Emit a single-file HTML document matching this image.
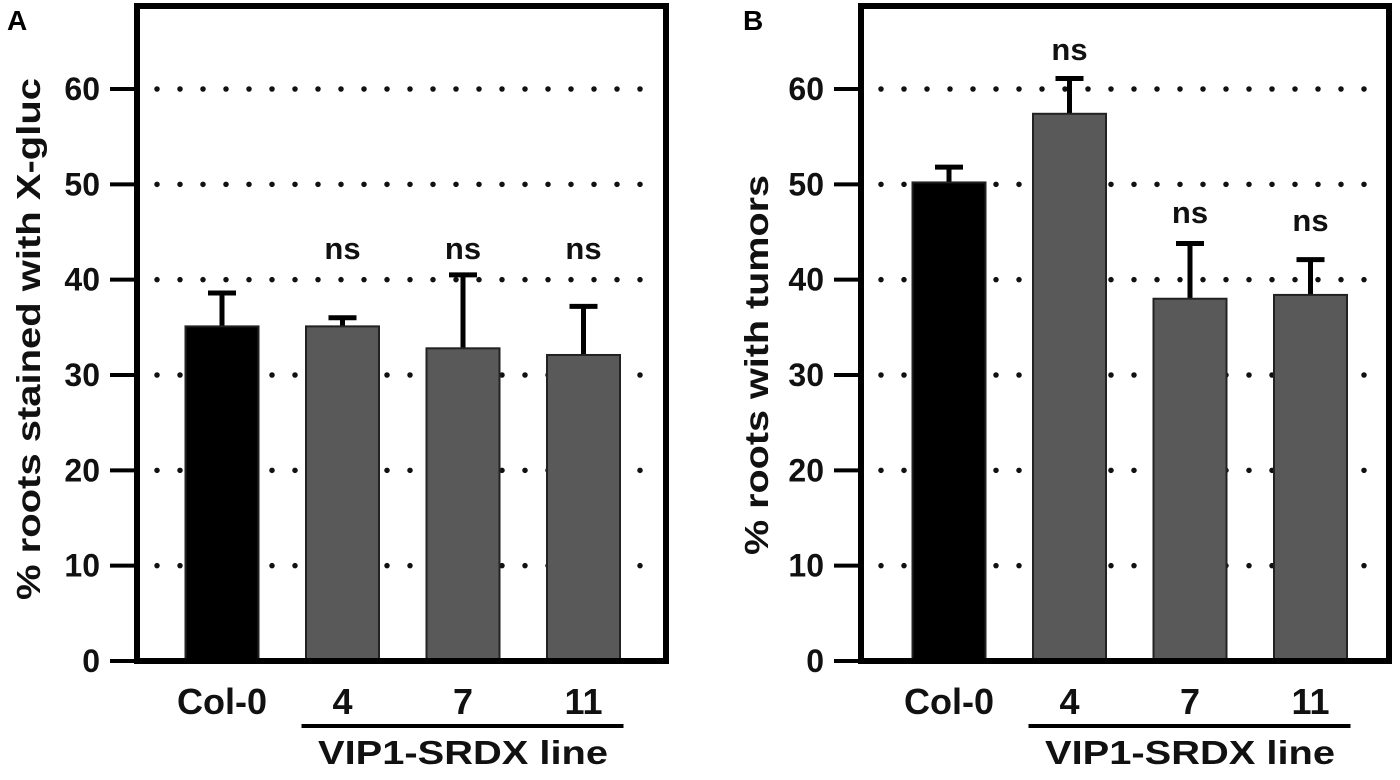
<!DOCTYPE html>
<html><head><meta charset="utf-8"><style>
html,body{margin:0;padding:0;background:#fff;}
svg{display:block;font-family:"Liberation Sans",sans-serif;font-weight:bold;}
</style></head><body>
<svg id="chart" width="1400" height="780" viewBox="0 0 1400 780"></svg>
<script>
const categories = ["Col-0","4","7","11"];
const valuesA = [35.1, 35.1, 32.8, 32.1];
const errorsA = [3.5, 0.9, 7.7, 5.1];
const valuesB = [50.2, 57.4, 38.0, 38.4];
const errorsB = [1.6, 3.7, 5.8, 3.7];
const sigA = ["", "ns", "ns", "ns"];
const sigB = ["", "ns", "ns", "ns"];
const yTicks = [0,10,20,30,40,50,60];
const yTickLabels = ["0","10","20","30","40","50","60"];

const NS = "http://www.w3.org/2000/svg";
const svg = document.getElementById('chart');
function mk(tag, attrs, parent){
  const e = document.createElementNS(NS, tag);
  for (const k in attrs) e.setAttribute(k, attrs[k]);
  (parent||svg).appendChild(e);
  return e;
}
const Y0 = 661, Y60 = 89;
function yScale(v){ return Y0 - v*(Y0-Y60)/60; }

function panel(cfg){
  const g = mk('g', {});
  
  
  const L = cfg.left, R = cfg.right;
  yTicks.forEach((t,i)=>{
    if (t===0) return;
    const gl = mk('line', {x1:L+20, x2:R-20, y1:yScale(t), y2:yScale(t), stroke:'#111', 'stroke-width':5.5, 'stroke-dasharray':'0 23', 'stroke-linecap':'round'}, g);
    
    
  });
  const bw = 73;
  categories.forEach((c,i)=>{
    const cx = L + cfg.offset + i*120.5;
    const v = cfg.values[i], e = cfg.errors[i];
    const yt = yScale(v);
    const eb = mk('line', {x1:cx, x2:cx, y1:yt, y2:yScale(v+e), stroke:'#000', 'stroke-width':5}, g);
    
    
    const cap = mk('line', {x1:cx-14, x2:cx+14, y1:yScale(v+e), y2:yScale(v+e), stroke:'#000', 'stroke-width':5}, g);
    
    
    const b = mk('rect', {x:cx-bw/2, y:yt, width:bw, height:Y0-yt, fill: i===0 ? '#000' : '#595959', stroke:'#222', 'stroke-width':2}, g);
    
    
    if (cfg.sig[i]) {
      const s = mk('text', {x:cx, y:cfg.sigY[i], 'text-anchor':'middle', 'font-size':31, fill:'#111'}, g);
      s.textContent = cfg.sig[i];
      
      
    }
    const xl = mk('text', {x:cx, y:714, 'text-anchor':'middle', 'font-size':36, fill:'#111'}, g);
    xl.textContent = c;
    
    
    if (i===1) cfg.c1 = cx;
    if (i===3) cfg.c3 = cx;
  });
  const fr = mk('rect', {x:L, y:6, width:R-L, height:Y0-6, fill:'none', stroke:'#000', 'stroke-width':6}, g);
  
  
  yTicks.forEach((t,i)=>{
    const tk = mk('line', {x1:L-27, x2:L, y1:yScale(t), y2:yScale(t), stroke:'#000', 'stroke-width':4}, g);
    
    
    const tl = mk('text', {x:L-37, y:yScale(t)+11, 'text-anchor':'end', 'font-size':32, fill:'#111'}, g);
    tl.textContent = yTickLabels[i];
    
    
  });
  const ul = mk('line', {x1:cfg.c1-41, x2:cfg.c3+40, y1:726, y2:726, stroke:'#000', 'stroke-width':4}, g);
  
  
  const gt = mk('text', {x:(cfg.c1+cfg.c3)/2, y:764, 'text-anchor':'middle', 'font-size':33, fill:'#111', textLength:290, lengthAdjust:'spacingAndGlyphs'}, g);
  gt.textContent = 'VIP1-SRDX line';
  
  
  const yt = mk('text', {x:0, y:0, 'text-anchor':'middle', 'font-size':33, fill:'#111', textLength:cfg.titleLen, lengthAdjust:'spacingAndGlyphs', transform:`translate(${cfg.titleX},${cfg.titleY}) rotate(-90)`}, g);
  yt.textContent = cfg.title;
  
  
  const pl = mk('text', {x:cfg.letterX, y:30, 'font-size':28, fill:'#000'}, g);
  pl.textContent = cfg.letter;
  
  
}

panel({name:'panel-a', left:137, right:666, offset:85, values:valuesA, errors:errorsA, sig:sigA, sigY:[0,259,259,259],
  title:'% roots stained with X-gluc', titleX:40, titleY:339, titleLen:522, letter:'A', letterX:7});
panel({name:'panel-b', left:861, right:1389, offset:88, values:valuesB, errors:errorsB, sig:sigB, sigY:[0,60,223,231],
  title:'% roots with tumors', titleX:768, titleY:365, titleLen:380, letter:'B', letterX:743});
</script>
</body></html>
